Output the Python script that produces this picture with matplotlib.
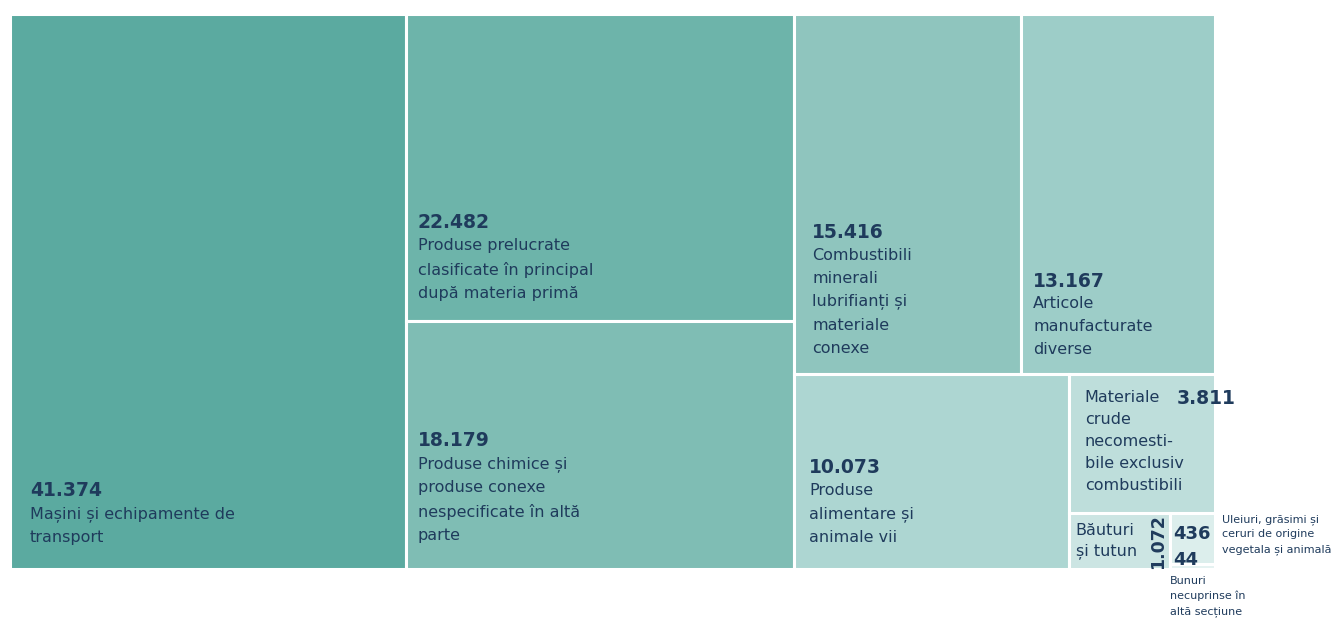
import matplotlib.pyplot as plt
from matplotlib.patches import Rectangle

# --- date ---
valori = [41374, 22482, 18179, 15416, 13167, 10073, 3811, 1072, 436, 44]
etichete_val = ["41.374", "22.482", "18.179", "15.416", "13.167", "10.073",
                "3.811", "1.072", "436", "44"]
etichete = [
    "Mașini și echipamente de\ntransport",
    "Produse prelucrate\nclasificate în principal\ndupă materia primă",
    "Produse chimice și\nproduse conexe\nnespecificate în altă\nparte",
    "Combustibili\nminerali\nlubrifianți și\nmateriale\nconexe",
    "Articole\nmanufacturate\ndiverse",
    "Produse\nalimentare și\nanimale vii",
    "Materiale\ncrude\nnecomesti-\nbile exclusiv\ncombustibili",
    "Băuturi\nși tutun",
    "Uleiuri, grăsimi și\nceruri de origine\nvegetala și animală",
    "Bunuri\nnecuprinse în\naltă secțiune",
]
culori = ["#5baaa0", "#6db4aa", "#7fbdb4", "#8fc5be", "#9dcdc8",
          "#add6d2", "#bededb", "#cce5e3", "#dceeec", "#e5f2f1"]

TEXT = "#1f3b5c"


# --- algoritm squarified treemap ---
def aseaza(sz, x, y, dx, dy):
    if dx >= dy:  # coloana
        w = sum(sz) / dy
        out, yy = [], y
        for s in sz:
            out.append((x, yy, w, s / w))
            yy += s / w
        return out
    h = sum(sz) / dx
    out, xx = [], x
    for s in sz:
        out.append((xx, y, s / h, h))
        xx += s / h
    return out


def rest(sz, x, y, dx, dy):
    if dx >= dy:
        w = sum(sz) / dy
        return x + w, y, dx - w, dy
    h = sum(sz) / dx
    return x, y + h, dx, dy - h


def cel_mai_rau(sz, x, y, dx, dy):
    return max(max(r[2] / r[3], r[3] / r[2]) for r in aseaza(sz, x, y, dx, dy))


def squarify(sz, x, y, dx, dy):
    if not sz:
        return []
    if len(sz) == 1:
        return aseaza(sz, x, y, dx, dy)
    i = 1
    while i < len(sz) and cel_mai_rau(sz[:i], x, y, dx, dy) >= cel_mai_rau(sz[:i + 1], x, y, dx, dy):
        i += 1
    return aseaza(sz[:i], x, y, dx, dy) + squarify(sz[i:], *rest(sz[:i], x, y, dx, dy))


X0, Y0, W, H = 10, 14, 1205, 555
total = sum(valori)
arii = [v * W * H / total for v in valori]
rects = squarify(arii, X0, Y0, W, H)

fig = plt.figure(figsize=(13.33, 6.22), dpi=100)
ax = fig.add_axes([0, 0, 1, 1])
ax.set_xlim(0, 1333)
ax.set_ylim(622, 0)
ax.axis("off")

for (x, y, w, h), c in zip(rects, culori):
    ax.add_patch(Rectangle((x, y), w, h, facecolor=c, edgecolor="white", lw=2.2))

fs_lab, fs_val = 11.5, 13.5
pad_x = [20, 12, 12, 18, 12, 15]
pad_b = [24, 20, 26, 18, 17, 24]

# blocuri mari: numar bold deasupra etichetei, ancorate jos-stanga
for i in range(6):
    x, y, w, h = rects[i]
    lab = ax.text(x + pad_x[i], y + h - pad_b[i], etichete[i], fontsize=fs_lab,
                  color=TEXT, va="bottom", ha="left", linespacing=1.68)
    ax.annotate(etichete_val[i], xy=(0, 1), xycoords=lab, xytext=(0, 4),
                textcoords="offset points", fontsize=fs_val, fontweight="bold",
                color=TEXT, va="bottom", ha="left")

# Materiale crude
x, y, w, h = rects[6]
ax.text(x + 16, y + 16, etichete[6], fontsize=fs_lab, color=TEXT,
        va="top", ha="left", linespacing=1.58)
ax.text(x + 108, y + 15, etichete_val[6], fontsize=fs_val, fontweight="bold",
        color=TEXT, va="top", ha="left")

# Bauturi si tutun
x, y, w, h = rects[7]
ax.text(x + 7, y + h / 2 + 0, etichete[7], fontsize=fs_lab, color=TEXT,
        va="center", ha="left", linespacing=1.48)
ax.text(x + w - 12, y + h / 2 + 1, etichete_val[7], fontsize=12.5, fontweight="bold",
        color=TEXT, va="center", ha="center", rotation=90)

# Uleiuri / Bunuri
x, y, w, h = rects[8]
ax.text(x + 3, y + 21, etichete_val[8], fontsize=13, fontweight="bold",
        color=TEXT, va="center", ha="left")
ax.text(x + w + 7, y + 1, etichete[8], fontsize=8, color=TEXT,
        va="top", ha="left", linespacing=1.6)
x, y, w, h = rects[9]
ax.text(x + 3, y - 4, etichete_val[9], fontsize=13, fontweight="bold",
        color=TEXT, va="center", ha="left")
ax.text(x, y + 12, etichete[9], fontsize=8, color=TEXT,
        va="top", ha="left", linespacing=1.6)

fig.savefig("out.png", dpi=100)
